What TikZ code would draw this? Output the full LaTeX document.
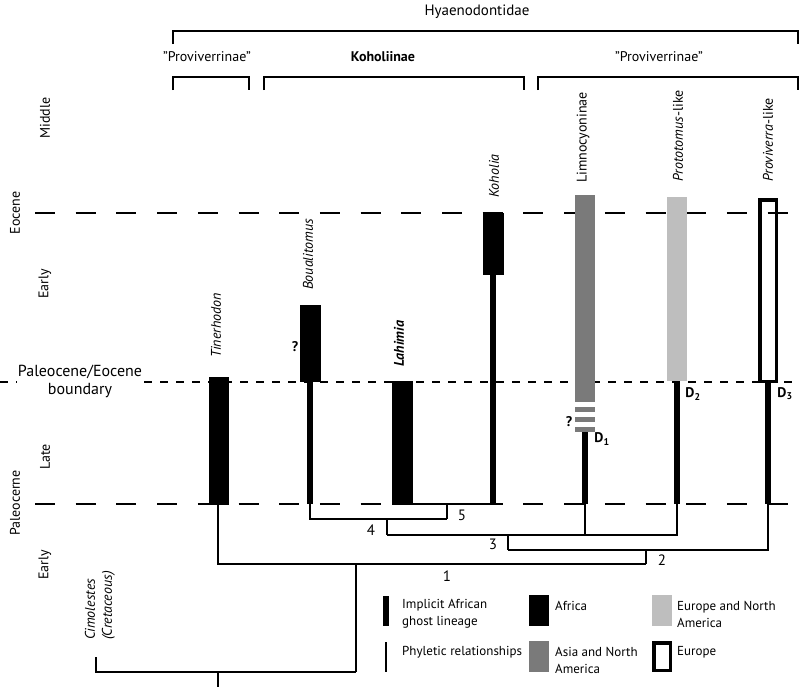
\documentclass[tikz,border=0pt]{standalone}
\usepackage{fontspec}
\setmainfont{PT Sans}
\usepackage{tikz}
\usetikzlibrary{positioning}
\definecolor{asiagrey}{RGB}{122,122,122}
\definecolor{eurogrey}{RGB}{190,190,190}

\tikzset{
  phyl/.style={line width=1.5pt},
  ghost/.style={line width=6pt},
  epochline/.style={line width=1.8pt, dash pattern=on 20pt off 20.7pt},
  boundline/.style={line width=1.6pt, dash pattern=on 8pt off 8pt},
  txt/.style={inner sep=0pt, font=\fontsize{14}{17}\selectfont},
  period/.style={txt, rotate=90},
  taxon/.style={txt, rotate=90, anchor=west, font=\fontsize{14}{17}\selectfont\itshape},
  legtxt/.style={txt, anchor=west, align=left, font=\fontsize{13}{17}\selectfont},
  nodenum/.style={txt, font=\fontsize{15}{17}\selectfont},
  qmark/.style={txt, font=\fontsize{14}{16}\selectfont\bfseries}
}

\begin{document}
\begin{tikzpicture}[x=1pt, y=-1pt]
                        \useasboundingbox (0,0) rectangle (804,691);

                        % clade brackets
                        \node[txt, font=\fontsize{15}{17}\selectfont] (hyaen) at (477,12) {Hyaenodontidae};
                        \draw[phyl] (173,44) -- (173,31) -- (798,31) -- (798,44);
                        \node[txt] (provL) at (207,57) {"Proviverrinae"};
                        \node[txt, font=\fontsize{14}{17}\selectfont\bfseries] (kohol) at (383,57) {Koholiinae};
                        \node[txt] (provR) at (659,57) {"Proviverrinae"};
                        \draw[phyl] (173,90) -- (173,77) -- (249,77) -- (249,90);
                        \draw[phyl] (264,90) -- (264,77) -- (524,77) -- (524,90);
                        \draw[phyl] (538,90) -- (538,77) -- (798,77) -- (798,90);

                        % time scale
                        \draw[epochline] (35,213) -- (790,213);
                        \draw[boundline] (0,382) -- (795,382);
                        \draw[epochline] (35,504) -- (790,504);
                        \node[period] (middle) at (45,118) {Middle};
                        \node[period] (eocene) at (15,213) {Eocene};
                        \node[period] (earlyE) at (45,284) {Early};
                        \node[period] (late) at (45,457) {Late};
                        \node[period] (paleo) at (15,503) {Paleocerne};
                        \node[period] (earlyP) at (45,565) {Early};
                        \node[txt, align=center, fill=white, inner sep=1pt, font=\fontsize{16}{18}\selectfont] (pebound) at (80,381) {Paleocene/Eocene\\boundary};

                        % ranges
                        \filldraw (209,377) rectangle (228,504);
                        \filldraw (300,305) rectangle (320,381);
                        \draw[ghost] (310,381) -- (310,504);
                        \filldraw (392,381) rectangle (412,504);
                        \filldraw (483,213) rectangle (503,274);
                        \draw[ghost] (493,274) -- (493,504);
                        \fill[asiagrey] (575,195) rectangle (595,402);
                        \foreach \y in {407,417,427}
                            \fill[asiagrey] (575,\y) rectangle (595,\y+5);
                        \draw[ghost] (585,432) -- (585,504);
                        \fill[eurogrey] (667,197) rectangle (687,381);
                        \draw[ghost] (677,381) -- (677,504);
                        \draw[line width=3.5pt] (759.75,199.75) rectangle (776.25,381.25);
                        \draw[ghost] (768,383) -- (768,504);

                        \node[taxon] (tiner) at (216,358) {Tinerhodon};
                        \node[taxon] (boual) at (308,290) {Boualitomus};
                        \node[taxon, font=\fontsize{14}{17}\selectfont\bfseries\itshape] (lahim) at (399,367) {Lahimia};
                        \node[taxon] (kohoi) at (494,198) {Koholia};
                        \node[taxon, font=\fontsize{14}{17}\selectfont] (limno) at (583,183) {Limnocyoninae};
                        \node[taxon] (proto) at (678,182) {\textit{Prototomus}\textup{-like}};
                        \node[taxon] (provi) at (768,182) {\textit{Proviverra}\textup{-like}};
                        \node[qmark] (qbou) at (295,347) {?};
                        \node[qmark] (qlim) at (569,422) {?};
                        \node[qmark] (dA) at (602,439) {D\textsubscript{1}};
                        \node[qmark] (dB) at (693,394) {D\textsubscript{2}};
                        \node[qmark] (dC) at (785,394) {D\textsubscript{3}};

                        % phyletic relationships
                        \coordinate (tin) at (218,504);
                        \coordinate (bou) at (310,504);
                        \coordinate (lah) at (402,504);
                        \coordinate (koh) at (493,504);
                        \coordinate (lim) at (585,504);
                        \coordinate (pro) at (677,504);
                        \coordinate (prv) at (768,504);
                        \coordinate (n5) at (447,519);
                        \coordinate (n4) at (387,535);
                        \coordinate (n3) at (508,550);
                        \coordinate (n2) at (646,564);
                        \coordinate (n1) at (356,672);
                        \coordinate (cim) at (96,657);
                        \coordinate (root) at (218,687);

                        \draw[phyl] (lah) -- (koh);
                        \draw[phyl] (n5 |- lah) -- (n5);
                        \draw[phyl] (bou) |- (n5);
                        \draw[phyl] (n4 |- n5) -- (n4);
                        \draw[phyl] (n4) -| (pro);
                        \draw[phyl] (lim) -- (lim |- n4);
                        \draw[phyl] (n3 |- n4) -- (n3);
                        \draw[phyl] (n3) -| (prv);
                        \draw[phyl] (n2 |- n3) -- (n2);
                        \draw[phyl] (tin) |- (n2);
                        \draw[phyl] (n1 |- n2) -- (n1);
                        \draw[phyl] (cim) |- (n1);
                        \draw[phyl] (root |- n1) -- (root);
                        \node[taxon, align=left] (cimol) at (100,640) {Cimolestes\\(Cretaceous)};

                        \node[nodenum] (num1) at (447,576) {1};
                        \node[nodenum] (num2) at (662,560) {2};
                        \node[nodenum] (num3) at (493,544) {3};
                        \node[nodenum] (num4) at (371,530) {4};
                        \node[nodenum] (num5) at (462,515) {5};

                        % legend
                        \draw[ghost] (386,596) -- (386,626);
                        \node[legtxt] (lgghost) at (402,614) {Implicit African\\ghost lineage};
                        \draw[phyl] (386,642) -- (386,672);
                        \node[legtxt] (lgphyl) at (402,652) {Phyletic relationships};
                        \fill (529,595) rectangle (549,626);
                        \node[legtxt] (lgafr) at (555,606) {Africa};
                        \fill[asiagrey] (529,641) rectangle (549,672);
                        \node[legtxt] (lgasia) at (555,660) {Asia and North\\America};
                        \fill[eurogrey] (652,595) rectangle (672,626);
                        \node[legtxt] (lgeuna) at (677,614) {Europe and North\\America};
                        \draw[line width=3.5pt] (653.75,642.75) rectangle (670.25,670.25);
                        \node[legtxt] (lgeuro) at (677,652) {Europe};
\end{tikzpicture}
\end{document}
